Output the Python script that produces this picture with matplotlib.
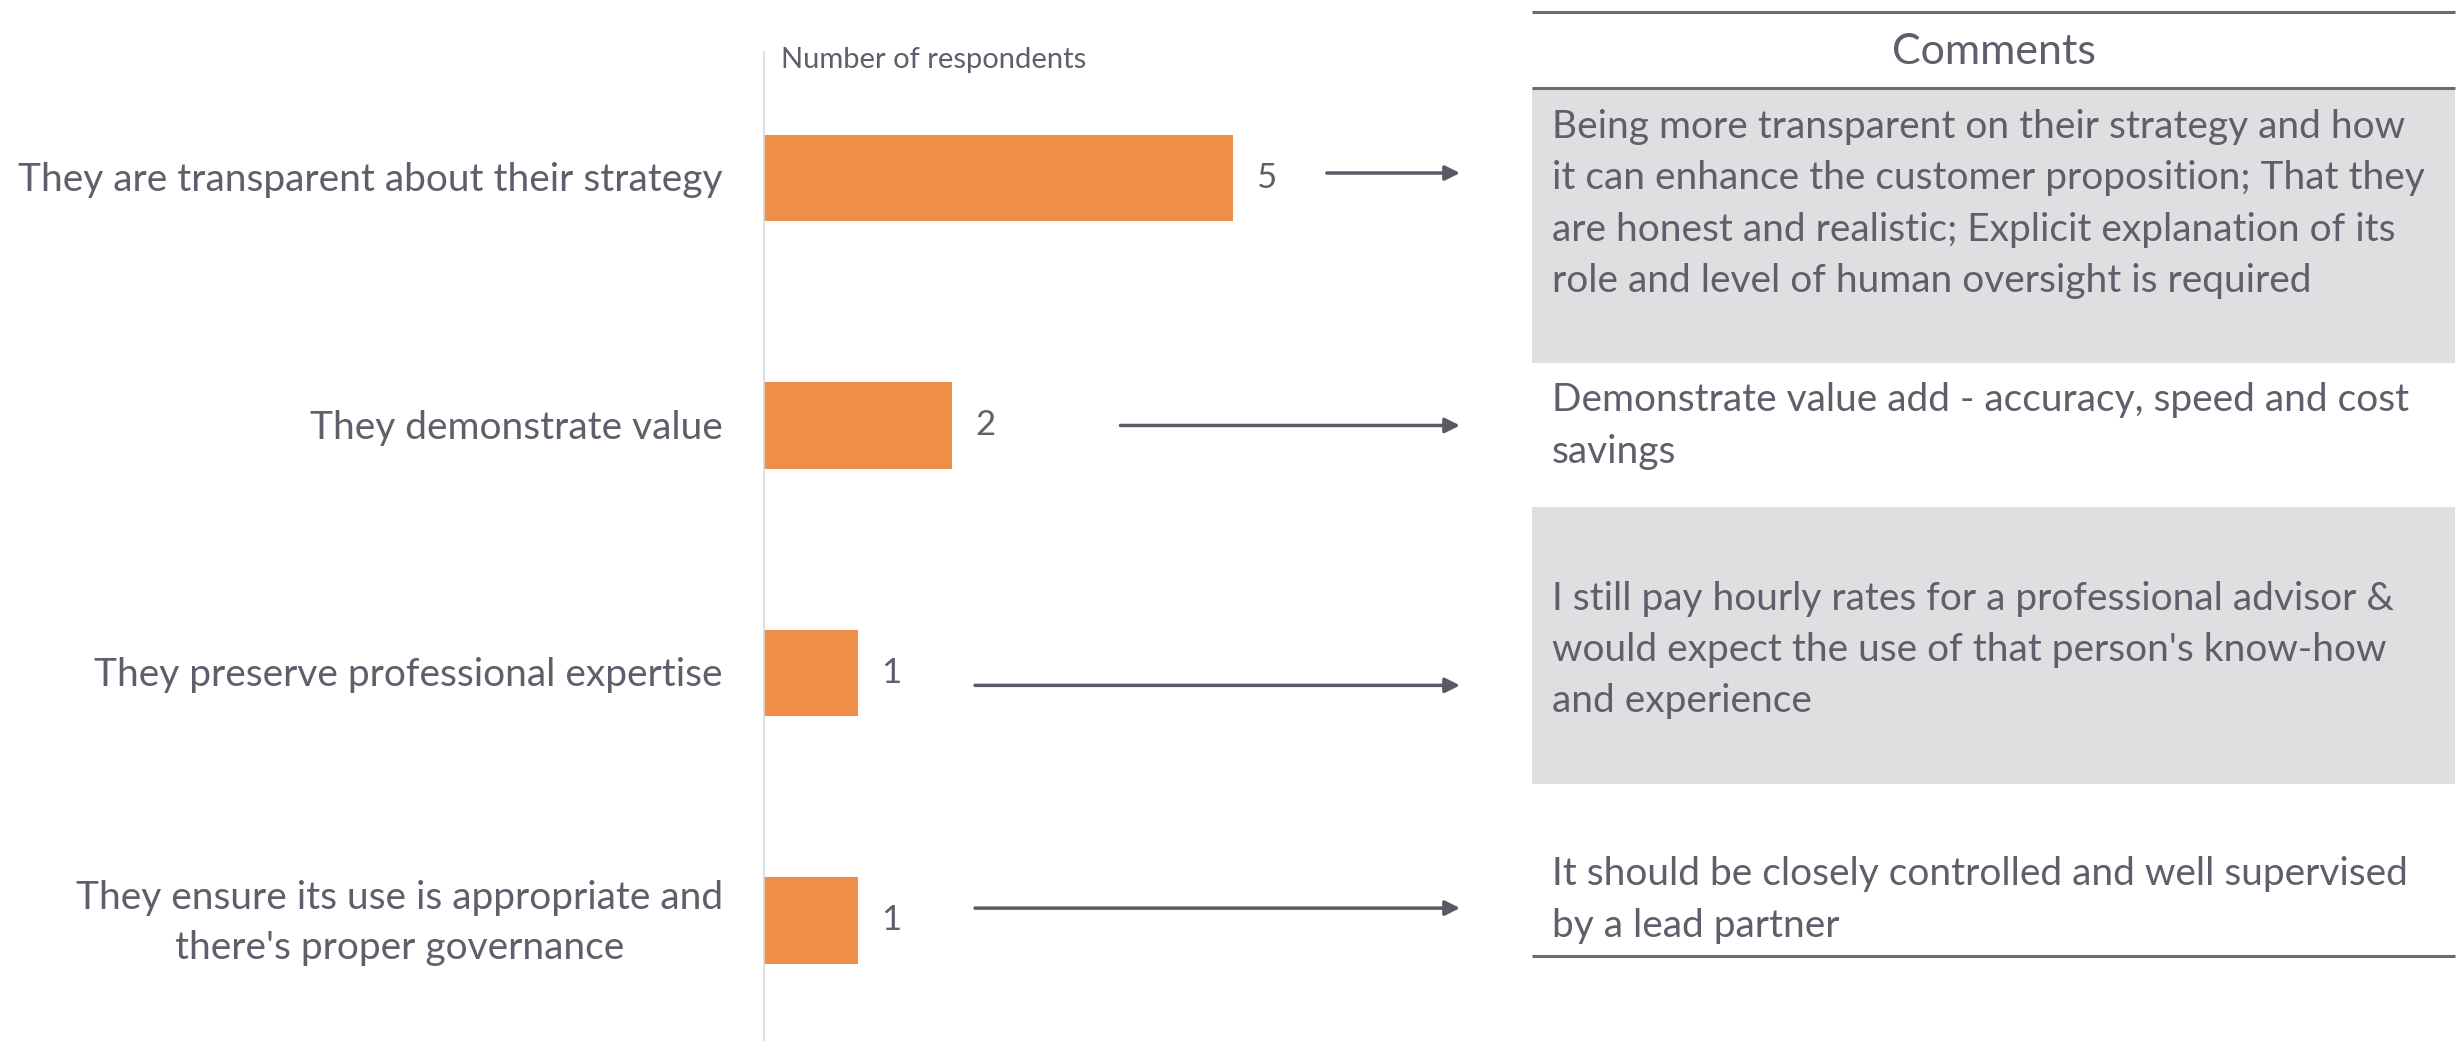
import matplotlib.pyplot as plt
from matplotlib.patches import Rectangle

plt.rcParams['font.family'] = ['Lato', 'DejaVu Sans']

categories = [
    'They are transparent about their strategy',
    'They demonstrate value',
    'They preserve professional expertise',
    "They ensure its use is appropriate and\nthere's proper governance",
]
respondents = [5, 2, 1, 1]
comments = [
    'Being more transparent on their strategy and how\n'
    'it can enhance the customer proposition; That they\n'
    'are honest and realistic; Explicit explanation of its\n'
    'role and level of human oversight is required',
    'Demonstrate value add - accuracy, speed and cost\nsavings',
    "I still pay hourly rates for a professional advisor &\n"
    "would expect the use of that person's know-how\n"
    'and experience',
    'It should be closely controlled and well supervised\nby a lead partner',
]

W, H = 2460, 1041
TEXT = '#5f5f6b'
ORANGE = '#f08e48'
LINE = '#6b6b75'
SHADE = '#dfdfe2'

fig = plt.figure(figsize=(W / 100, H / 100), dpi=100)

# bar chart part
ax = fig.add_axes([764 / W, 0, (1470 - 764) / W, (H - 52) / H])
y = list(range(len(categories)))
ax.barh(y, respondents, height=0.35, color=ORANGE)
ax.set_xlim(0, 706 / 93.8)
ax.set_ylim(3.487, -0.509)
for s in ['top', 'right', 'bottom']:
    ax.spines[s].set_visible(False)
ax.spines['left'].set_color('#d9d9d9')
ax.spines['left'].set_linewidth(1.2)
ax.set_xticks([])
ax.set_yticks([])

for i, (cat, val) in enumerate(zip(categories, respondents)):
    ax.annotate(cat, xy=(0, i + 0.01), xytext=(-41, 0), textcoords='offset pixels',
                ha='right', va='center', multialignment='center',
                fontsize=28, color=TEXT, linespacing=1.5)
    ax.text(val + 0.25, i, str(val), ha='left', va='center',
            fontsize=25, color=TEXT)

# arrows towards the comments
arrow_start = [6.0, 3.8, 2.25, 2.25]
arrow_dy = [-0.02, 0, 0.05, -0.05]
for i, (x0, dy) in enumerate(zip(arrow_start, arrow_dy)):
    ax.annotate('', xy=(7.42, i + dy), xytext=(x0, i + dy),
                arrowprops=dict(arrowstyle='-|>', color='#5a5a66', lw=2.5,
                                mutation_scale=22, shrinkA=0, shrinkB=0))

fig.text(781 / W, 1 - 60 / H, 'Number of respondents', ha='left', va='center',
         fontsize=21, color=TEXT)

# comments table
tab = fig.add_axes([0, 0, 1, 1], zorder=-1)
tab.set_xlim(0, W)
tab.set_ylim(H, 0)
tab.axis('off')

x0, x1 = 1532, 2455
row_edges = [88, 363, 507, 784, 956]
text_y = [204, 426, 650, 900]
for i, txt in enumerate(comments):
    if i % 2 == 0:
        tab.add_patch(Rectangle((x0, row_edges[i]), x1 - x0,
                                row_edges[i + 1] - row_edges[i],
                                color=SHADE, lw=0))
    tab.text(x0 + 20, text_y[i], txt, ha='left', va='center', fontsize=28,
             color=TEXT, linespacing=1.52)

for yy in [12, 88, 956]:
    tab.plot([x0, x1], [yy, yy], color=LINE, lw=2.2, solid_capstyle='butt')

tab.text((x0 + x1) / 2, 52, 'Comments', ha='center', va='center',
         fontsize=31, color=TEXT)

fig.savefig('out.png', dpi=100)
